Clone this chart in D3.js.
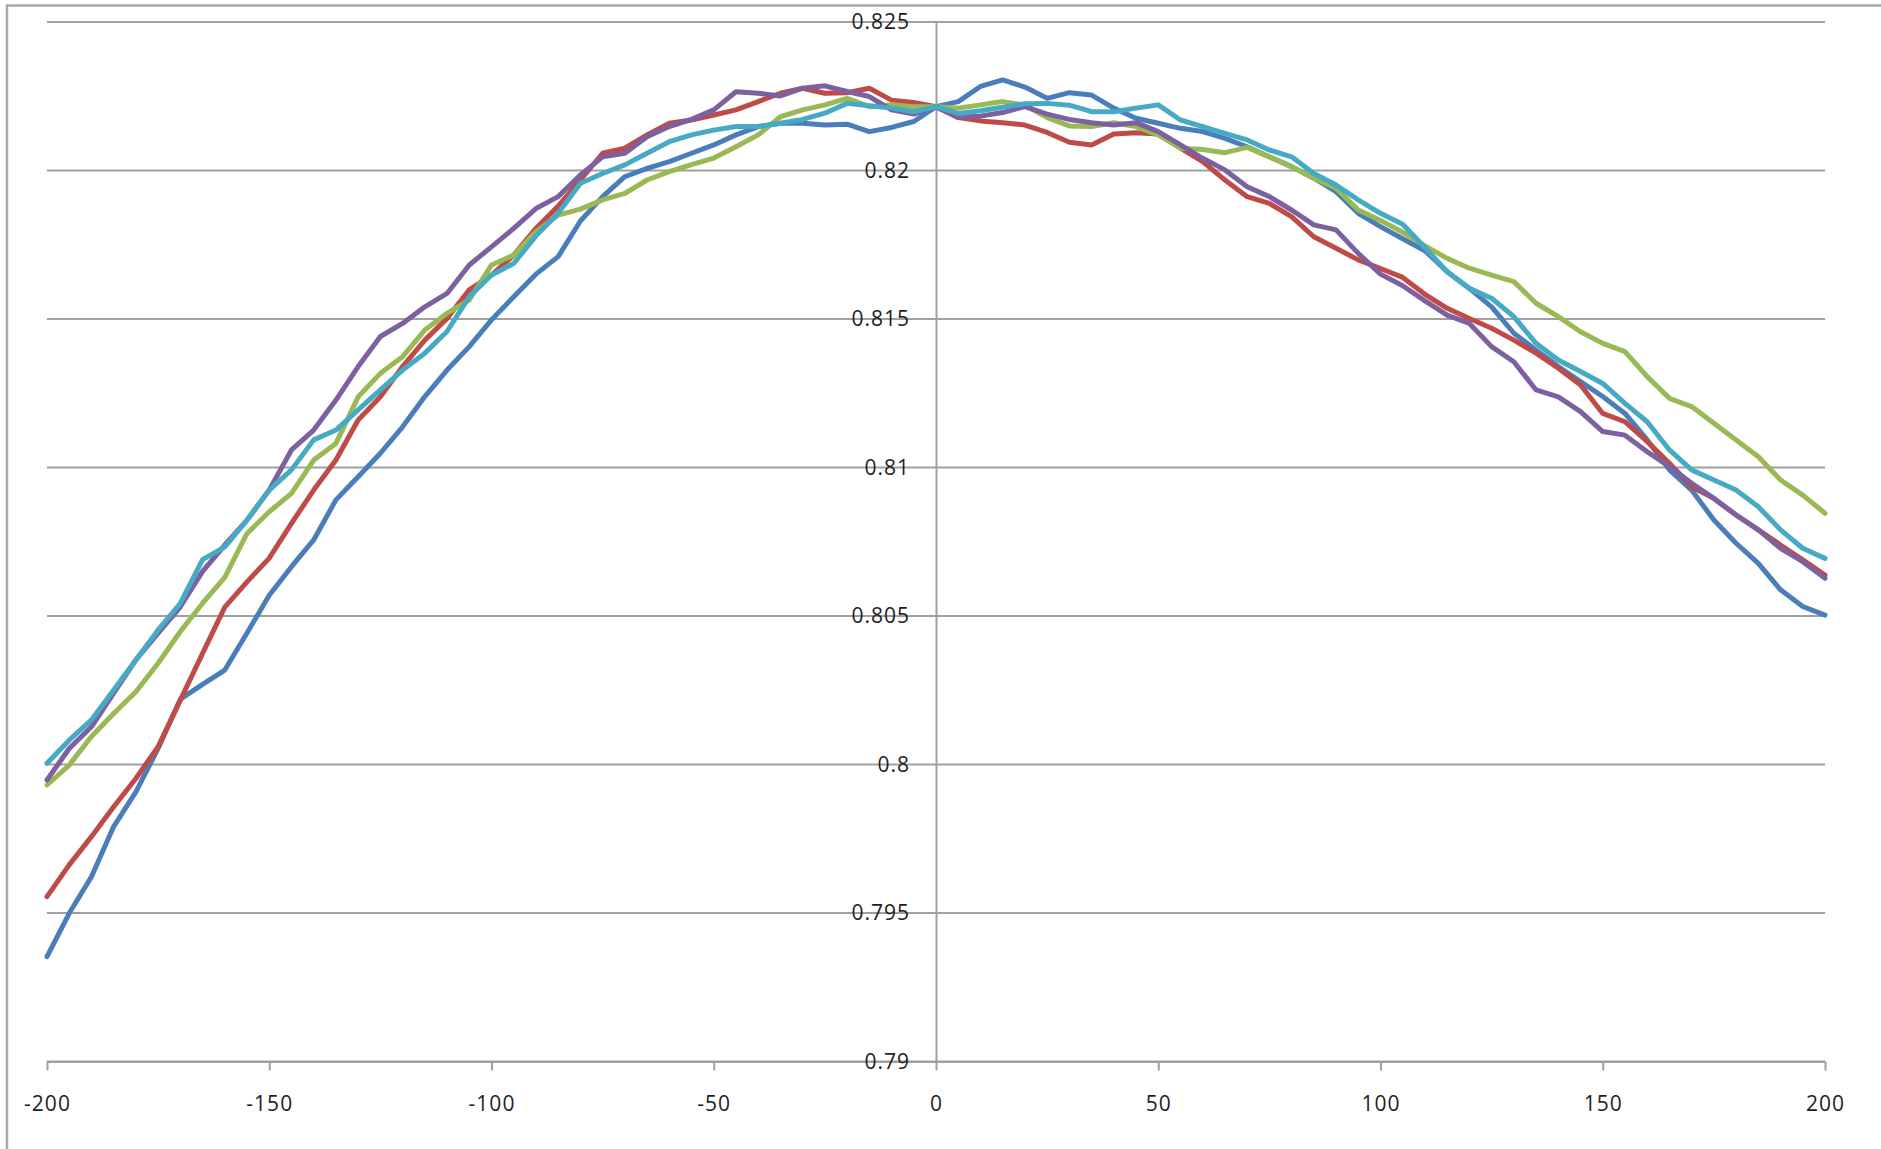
<!DOCTYPE html>
<html>
<head>
<meta charset="utf-8">
<script src="https://cdn.jsdelivr.net/npm/d3@7"></script>
<style>
  html, body { margin: 0; padding: 0; background: #ffffff; }
  svg { display: block; }
  text { font-family: "Open Sans", "Noto Sans", sans-serif; }
</style>
</head>
<body>
<svg id="chart" width="1881" height="1149"></svg>
<script>
// Offsets (x) at which each run was sampled
const offsets = [
  -200,-195,-190,-185,-180,-175,-170,-165,-160,-155,-150,-145,-140,-135,-130,-125,-120,-115,-110,-105,
  -100,-95,-90,-85,-80,-75,-70,-65,-60,-55,-50,-45,-40,-35,-30,-25,-20,-15,-10,-5,
  0,5,10,15,20,25,30,35,40,45,50,55,60,65,70,75,80,85,90,95,
  100,105,110,115,120,125,130,135,140,145,150,155,160,165,170,175,180,185,190,195,200
];

const xTickValues = [-200, -150, -100, -50, 0, 50, 100, 150, 200];
const yTickValues = [0.79, 0.795, 0.8, 0.805, 0.81, 0.815, 0.82, 0.825];
const yTickLabels = ["0.79", "0.795", "0.8", "0.805", "0.81", "0.815", "0.82", "0.825"];

const series1 = [
  0.79353,0.79499,0.79622,0.79791,0.79908,0.80054,0.80220,0.80270,0.80318,0.80443,
  0.80570,0.80666,0.80756,0.80891,0.80969,0.81048,0.81137,0.81239,0.81328,0.81407,
  0.81497,0.81575,0.81651,0.81710,0.81830,0.81912,0.81979,0.82007,0.82030,0.82058,
  0.82086,0.82120,0.82148,0.82159,0.82159,0.82153,0.82156,0.82131,0.82145,0.82165,
  0.82215,0.82232,0.82283,0.82305,0.82281,0.82243,0.82262,0.82254,0.82210,0.82176,
  0.82159,0.82142,0.82131,0.82108,0.82080,0.82046,0.82013,0.81974,0.81929,0.81856,
  0.81811,0.81770,0.81730,0.81659,0.81603,0.81541,0.81452,0.81396,0.81340,0.81289,
  0.81239,0.81182,0.81093,0.80992,0.80924,0.80823,0.80745,0.80677,0.80588,0.80532,0.80503
];
const series2 = [
  0.79555,0.79662,0.79757,0.79858,0.79953,0.80060,0.80217,0.80374,0.80530,0.80615,
  0.80695,0.80812,0.80924,0.81025,0.81160,0.81238,0.81340,0.81429,0.81502,0.81598,
  0.81648,0.81715,0.81805,0.81880,0.81968,0.82058,0.82075,0.82120,0.82159,0.82170,
  0.82187,0.82204,0.82232,0.82260,0.82277,0.82260,0.82262,0.82277,0.82237,0.82229,
  0.82215,0.82178,0.82167,0.82161,0.82153,0.82128,0.82095,0.82086,0.82123,0.82127,
  0.82123,0.82075,0.82030,0.81968,0.81912,0.81889,0.81845,0.81777,0.81738,0.81699,
  0.81670,0.81640,0.81583,0.81536,0.81502,0.81469,0.81429,0.81385,0.81334,0.81278,
  0.81182,0.81154,0.81087,0.81014,0.80935,0.80896,0.80840,0.80790,0.80739,0.80689,0.80638
];
const series3 = [
  0.79931,0.79998,0.80094,0.80172,0.80245,0.80341,0.80448,0.80543,0.80630,0.80778,
  0.80851,0.80913,0.81025,0.81081,0.81238,0.81317,0.81373,0.81463,0.81519,0.81564,
  0.81682,0.81715,0.81794,0.81850,0.81870,0.81901,0.81923,0.81968,0.81996,0.82020,
  0.82042,0.82080,0.82120,0.82181,0.82204,0.82221,0.82243,0.82215,0.82221,0.82215,
  0.82215,0.82210,0.82221,0.82232,0.82220,0.82178,0.82150,0.82148,0.82161,0.82148,
  0.82120,0.82075,0.82071,0.82060,0.82078,0.82046,0.82013,0.81974,0.81940,0.81867,
  0.81832,0.81792,0.81746,0.81704,0.81671,0.81648,0.81626,0.81553,0.81508,0.81457,
  0.81418,0.81390,0.81306,0.81233,0.81205,0.81149,0.81093,0.81036,0.80958,0.80907,0.80846
];
const series4 = [
  0.79948,0.80054,0.80127,0.80240,0.80352,0.80442,0.80531,0.80650,0.80739,0.80823,
  0.80924,0.81059,0.81126,0.81227,0.81340,0.81441,0.81485,0.81541,0.81586,0.81682,
  0.81743,0.81805,0.81872,0.81912,0.81985,0.82046,0.82058,0.82114,0.82148,0.82172,
  0.82204,0.82265,0.82260,0.82251,0.82277,0.82285,0.82266,0.82249,0.82204,0.82190,
  0.82215,0.82180,0.82183,0.82195,0.82215,0.82190,0.82172,0.82161,0.82153,0.82161,
  0.82131,0.82086,0.82041,0.82002,0.81945,0.81912,0.81867,0.81817,0.81800,0.81721,
  0.81651,0.81612,0.81561,0.81513,0.81485,0.81407,0.81356,0.81261,0.81238,0.81188,
  0.81121,0.81109,0.81053,0.81003,0.80947,0.80896,0.80840,0.80790,0.80728,0.80683,0.80627
];
const series5 = [
  0.80004,0.80082,0.80150,0.80251,0.80352,0.80453,0.80543,0.80690,0.80733,0.80823,
  0.80924,0.80992,0.81093,0.81126,0.81194,0.81261,0.81328,0.81385,0.81458,0.81575,
  0.81648,0.81687,0.81780,0.81856,0.81957,0.81990,0.82019,0.82058,0.82097,0.82120,
  0.82136,0.82148,0.82148,0.82159,0.82172,0.82193,0.82226,0.82218,0.82210,0.82198,
  0.82215,0.82192,0.82201,0.82213,0.82225,0.82226,0.82220,0.82198,0.82198,0.82210,
  0.82221,0.82170,0.82148,0.82125,0.82103,0.82069,0.82046,0.81990,0.81951,0.81901,
  0.81856,0.81819,0.81740,0.81659,0.81603,0.81570,0.81508,0.81418,0.81362,0.81323,
  0.81283,0.81216,0.81154,0.81059,0.80992,0.80958,0.80924,0.80868,0.80790,0.80728,0.80694
];

const allSeries = [series1, series2, series3, series4, series5];
const seriesColors = ["#4A7EBB", "#BE4B48", "#98B954", "#7D60A0", "#46AAC5"];

const svg = d3.select("#chart");
const plot = { left: 47, right: 1825, top: 22, bottom: 1061.5 };

const x = d3.scaleLinear().domain([-200, 200]).range([plot.left, plot.right]);
const y = d3.scaleLinear().domain([0.79, 0.825]).range([plot.bottom, plot.top]);

// outer chart frame (extends past the right and bottom edges)
svg.append("rect")
  .attr("x", 7).attr("y", 5.5)
  .attr("width", 1900).attr("height", 1200)
  .attr("fill", "none")
  .attr("stroke", "#a9a9a9")
  .attr("stroke-width", 2.5);

// horizontal gridlines
svg.append("g")
  .selectAll("line")
  .data(yTickValues)
  .join("line")
  .attr("x1", plot.left).attr("x2", plot.right)
  .attr("y1", d => y(d)).attr("y2", d => y(d))
  .attr("stroke", "#a0a0a0")
  .attr("stroke-width", 2);

// x axis along the bottom
const xAxis = d3.axisBottom(x)
  .tickValues(xTickValues)
  .tickFormat(d => String(d))
  .tickSize(9)
  .tickSizeOuter(0)
  .tickPadding(26);

const gx = svg.append("g")
  .attr("transform", `translate(0,${y(0.79)})`)
  .call(xAxis);
gx.select(".domain").attr("stroke", "#a0a0a0").attr("stroke-width", 2);
gx.selectAll(".tick line").attr("stroke", "#a0a0a0").attr("stroke-width", 2);
gx.selectAll(".tick text")
  .attr("fill", "#1e1e1e")
  .style("font-size", "21px")
  .style("letter-spacing", "1px");

// y axis crossing at x = 0
const yAxis = d3.axisLeft(y)
  .tickValues(yTickValues)
  .tickFormat((d, i) => yTickLabels[i])
  .tickSize(0)
  .tickSizeOuter(0)
  .tickPadding(26);

const gy = svg.append("g")
  .attr("transform", `translate(${x(0)},0)`)
  .call(yAxis);
gy.select(".domain").attr("stroke", "#a0a0a0").attr("stroke-width", 2);
gy.selectAll(".tick text")
  .attr("fill", "#1e1e1e")
  .style("font-size", "21px")
  .style("letter-spacing", "1px");

// the five runs
const line = d3.line()
  .x((d, i) => x(offsets[i]))
  .y(d => y(d));

svg.append("g")
  .selectAll("path")
  .data(allSeries)
  .join("path")
  .attr("d", d => line(d))
  .attr("fill", "none")
  .attr("stroke", (d, i) => seriesColors[i])
  .attr("stroke-width", 5)
  .attr("stroke-linejoin", "round")
  .attr("stroke-linecap", "round");
</script>
</body>
</html>
